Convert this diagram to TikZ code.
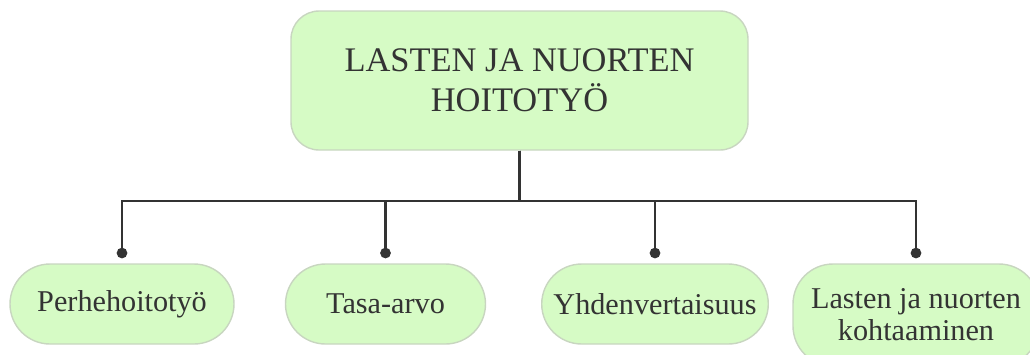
\documentclass[tikz,border=0pt]{standalone}
\usepackage{fontspec}
\setmainfont{Liberation Serif}
\usepackage{xcolor}
\usepackage{tikz}
\usetikzlibrary{arrows.meta, positioning, calc}
\definecolor{leafgreen}{RGB}{214, 251, 197}
\definecolor{leafborder}{RGB}{200, 214, 192}
\definecolor{inkgray}{RGB}{51, 51, 51}

\begin{document}
\begin{tikzpicture}[
        topic/.style={fill=leafgreen, draw=leafborder, line width=0.4pt, rounded corners=8pt,
            minimum width=4.57cm, minimum height=1.39cm, align=center, text=inkgray,
            font=\fontsize{9.8}{11.4}\selectfont},
        subtopic/.style={fill=leafgreen, draw=leafborder, line width=0.4pt, rounded corners=0.4cm,
            minimum height=0.8cm, align=center, text=inkgray,
            font=\fontsize{8.6}{9.1}\selectfont},
        branch/.style={draw=inkgray, line width=0.7pt, -{Circle[length=3pt]}, shorten >=0.05cm}
    ]
        \useasboundingbox (0,0) rectangle (10.30,3.54);

        \node[topic] (main) at (5.195,2.735) {LASTEN JA NUORTEN\\HOITOTYÖ};

        \node[subtopic, minimum width=2.24cm] (perhe) at (1.22,0.50) {Perhehoitotyö};
        \node[subtopic, minimum width=2.00cm] (tasa) at (3.855,0.50) {Tasa-arvo};
        \node[subtopic, minimum width=2.24cm] (yhden) at (6.55,0.50) {Yhdenvertaisuus};
        \node[subtopic, minimum width=2.46cm, minimum height=1.02cm] (kohtaa) at (9.16,0.39) {Lasten ja nuorten\\kohtaaminen};

        % tree lines
        \coordinate (bus) at ($(main.south)+(0,-0.505)$);
        \draw[branch] (main.south) -- (bus) -| (perhe.north);
        \draw[branch] (main.south) -- (bus) -| (tasa.north);
        \draw[branch] (main.south) -- (bus) -| (yhden.north);
        \draw[branch] (main.south) -- (bus) -| (kohtaa.north);
    \end{tikzpicture}
\end{document}
